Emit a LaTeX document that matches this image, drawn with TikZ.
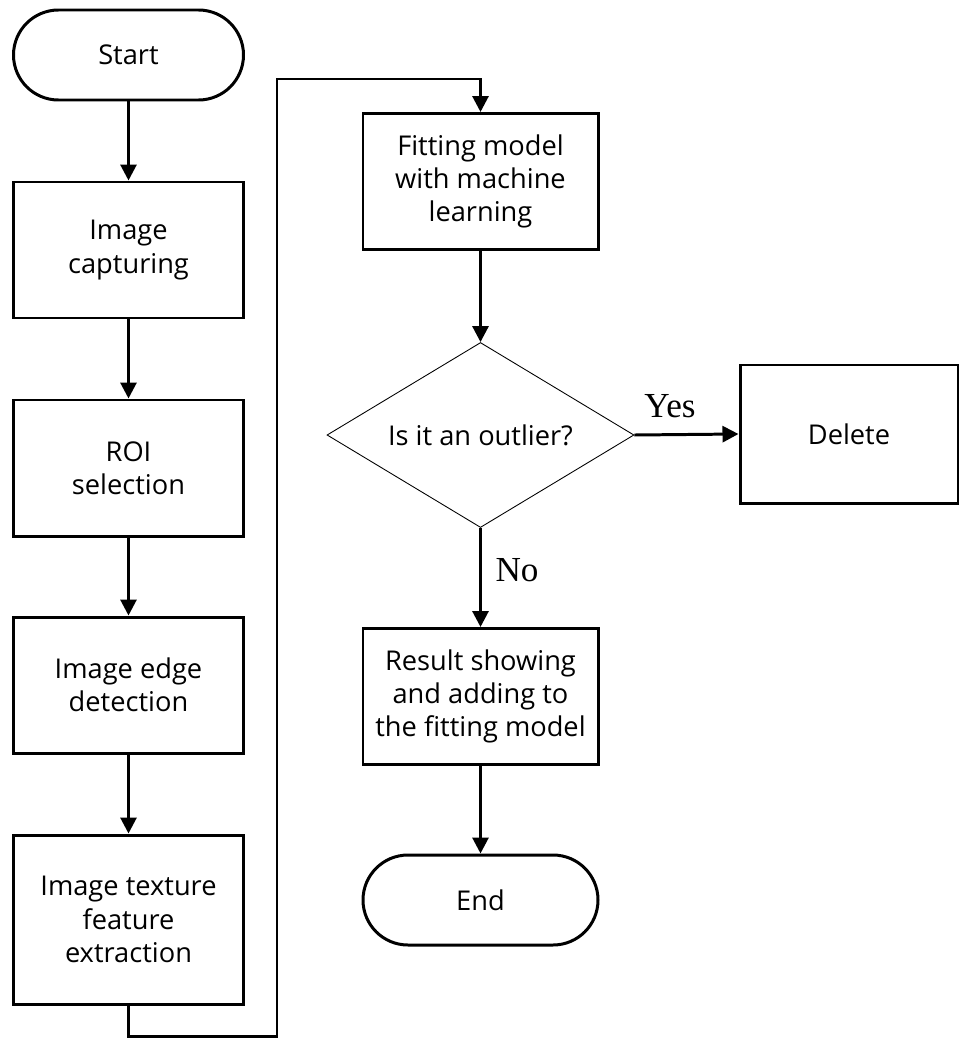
\documentclass[tikz,border=0pt]{standalone}
\usepackage{fontspec}
\usepackage{tikz}
\usetikzlibrary{shapes.geometric,arrows.meta}
\newfontfamily\boxfont{Open Sans}
\newfontfamily\labelfont{Liberation Serif}

\begin{document}
\begin{tikzpicture}[line width=1.7pt,>={Triangle[length=0.32cm,width=0.32cm]},
  proc/.style={draw,rectangle,minimum width=4.6cm,minimum height=2.72cm,align=center,font=\boxfont\fontsize{15.5}{19}\selectfont},
  term/.style={draw,rectangle,rounded corners=0.9cm,minimum width=4.6cm,minimum height=1.8cm,font=\boxfont\fontsize{15.5}{19}\selectfont},
  decide/.style={draw,diamond,line width=0.5pt,aspect=1.66,inner sep=0pt,minimum width=6.14cm,minimum height=3.7cm,font=\boxfont\fontsize{15.5}{19}\selectfont},
  answer/.style={font=\labelfont\fontsize{20}{20}\selectfont}]
\useasboundingbox (0,0) rectangle (19.18,-20.78);
% left column
\node[term] (start) at (2.57,-1.10) {Start};
\node[proc] (capture) at (2.57,-5.00) {Image\\capturing};
\node[proc] (roi) at (2.57,-9.36) {ROI\\selection};
\node[proc] (edge) at (2.57,-13.70) {Image edge\\detection};
\node[proc,minimum height=3.38cm] (texture) at (2.57,-18.39) {Image texture\\feature\\extraction};
% right column
\node[proc,minimum width=4.7cm] (fit) at (9.61,-3.63) {Fitting model\\with machine\\learning};
\node[decide] (outlier) at (9.61,-8.70) {Is it an outlier?};
\node[proc,minimum width=4.36cm,minimum height=2.76cm] (delete) at (16.98,-8.68) {Delete};
\node[proc,minimum width=4.7cm] (result) at (9.61,-13.93) {Result showing\\and adding to\\the fitting model};
\node[term,minimum width=4.7cm] (end) at (9.61,-18.00) {End};

\coordinate (c1) at (2.57,-20.72);
\coordinate (c2) at (5.54,-20.72);
\coordinate (c3) at (5.54,-1.58);
\coordinate (c4) at (9.61,-1.58);

\draw[->] (start) -- (capture);
\draw[->] (capture) -- (roi);
\draw[->] (roi) -- (edge);
\draw[->] (edge) -- (texture);
\draw[->] (texture.south) -- (c1) -- (c2) -- (c3) -- (c4) -- (fit.north);
\draw[->] (fit) -- (outlier.north);
\draw[->] (outlier.east) -- (delete.west);
\draw[->] (outlier.south) -- (result.north);
\draw[->] (result) -- (end);

\node[answer] (yes) at (13.40,-8.12) {Yes};
\node[answer] (no) at (10.34,-11.40) {No};
\end{tikzpicture}
\end{document}
